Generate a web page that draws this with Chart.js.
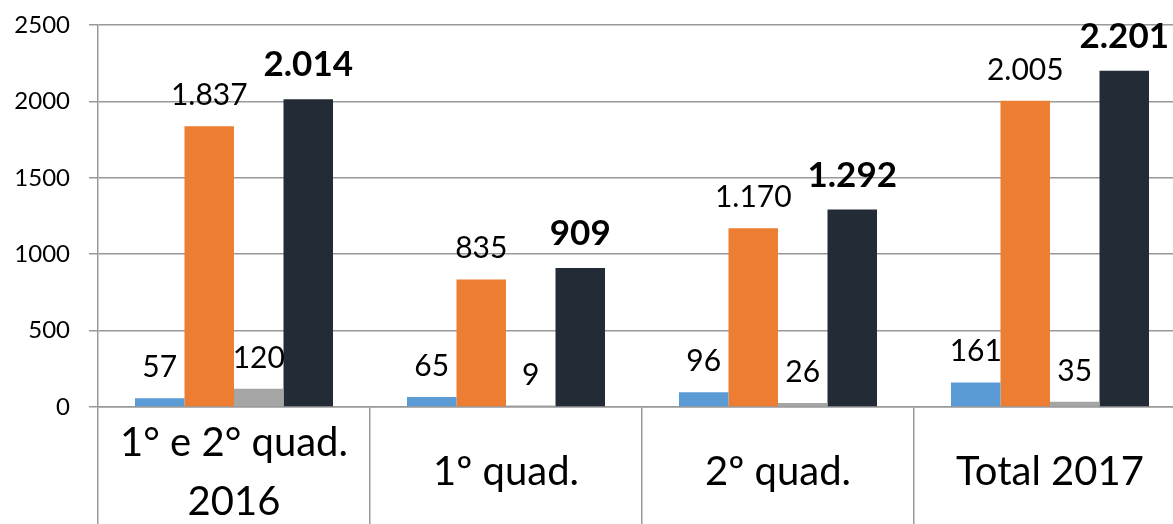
<!DOCTYPE html>
<html lang="pt">

<head>
    <meta charset="UTF-8" />
    <meta name="viewport" content="width=device-width, initial-scale=1.0" />
    <title>Quadrimestres</title>
    <script src="https://cdn.jsdelivr.net/npm/chart.js"></script>
    <style>
        body { margin: 0; overflow: hidden; background: #fff; }
        canvas { display: block; }
    </style>
</head>

<body>
    <canvas id="myChart" width="1190" height="530"></canvas>

    <script>
        const categories = [["1° e 2° quad.", "2016"], "1º quad.", "2º quad.", "Total 2017"];
        const blueValues = [57, 65, 96, 161];
        const orangeValues = [1837, 835, 1170, 2005];
        const grayValues = [120, 9, 26, 35];
        const navyValues = [2014, 909, 1292, 2201];
        const yTicks = [0, 500, 1000, 1500, 2000, 2500];

        const FONT = "Lato";
        const GRID = "#999";

        // 1837 -> "1.837"
        function fmt(v) {
            return String(v).replace(/\B(?=(\d{3})+(?!\d))/g, ".");
        }

        // labels above the bars (no datalabels plugin available offline)
        const valueLabels = {
            id: "valueLabels",
            afterDatasetsDraw(chart) {
                const ctx = chart.ctx;
                ctx.save();
                ctx.fillStyle = "#000";
                ctx.textAlign = "center";
                ctx.textBaseline = "alphabetic";
                chart.data.datasets.forEach((ds, i) => {
                    const meta = chart.getDatasetMeta(i);
                    const bold = i === 3;
                    ctx.font = (bold ? "bold 35px " : "30px ") + FONT;
                    meta.data.forEach((bar, j) => {
                        ctx.fillText(fmt(ds.data[j]), bar.x, bar.y - (bold ? 23 : 21));
                    });
                });
                ctx.restore();
            },
        };

        const data = {
            labels: categories,
            datasets: [
                { data: blueValues, backgroundColor: "#5B9BD5" },
                { data: orangeValues, backgroundColor: "#ED7D31" },
                { data: grayValues, backgroundColor: "#A5A5A5" },
                { data: navyValues, backgroundColor: "#232B36" },
            ],
        };

        const config = {
            type: "bar",
            data: data,
            plugins: [valueLabels],
            options: {
                responsive: false,
                animation: false,
                layout: { padding: { top: 25, right: 4, left: 0, bottom: 0 } },
                datasets: {
                    bar: { barPercentage: 1, categoryPercentage: 0.728, borderWidth: 0 },
                },
                plugins: {
                    legend: { display: false },
                    tooltip: { enabled: false },
                },
                scales: {
                    x: {
                        grid: {
                            offset: true,
                            drawOnChartArea: false,
                            tickLength: 120,
                            color: GRID,
                            lineWidth: 1.5,
                        },
                        border: { color: GRID, width: 1.5 },
                        ticks: {
                            color: "#000",
                            padding: -84,
                            crossAlign: "center",
                            maxRotation: 0,
                            autoSkip: false,
                            font: { family: FONT, size: 40, lineHeight: 1.47 },
                        },
                        afterFit(scale) { scale.height = 123; },
                    },
                    y: {
                        min: 0,
                        max: 2500,
                        afterBuildTicks(scale) {
                            scale.ticks = yTicks.map((v) => ({ value: v }));
                        },
                        grid: { color: GRID, lineWidth: 1.5, tickLength: 9 },
                        border: { color: GRID, width: 1.5 },
                        ticks: {
                            color: "#000",
                            padding: 19,
                            // small line height keeps the top label from pushing the plot down
                            font: { family: FONT, size: 24, lineHeight: 0.5 },
                            callback: (v) => String(v),
                        },
                        afterFit(scale) { scale.width = 98; },
                    },
                },
            },
        };

        const myChart = new Chart(document.getElementById("myChart"), config);
    </script>
</body>

</html>
